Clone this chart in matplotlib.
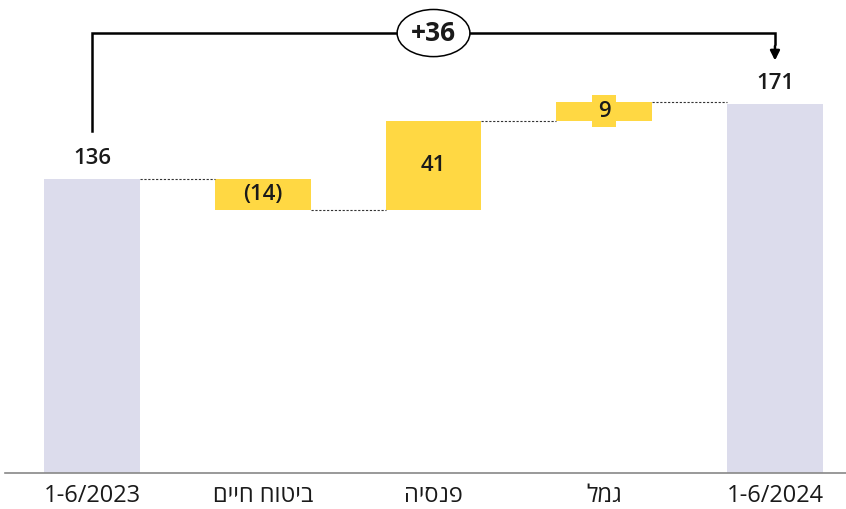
import matplotlib.pyplot as plt

# waterfall data
categories = ["1-6/2023", "ביטוח חיים", "פנסיה", "גמל", "1-6/2024"]
start_value = 136
changes = [-14, 41, 9]
end_value = 171
change_labels = ["(14)", "41", "9"]
total_change_label = "+36"

plt.rcParams['font.family'] = ['Open Sans', 'DejaVu Sans']

total_color = "#dcdcec"
step_color = "#ffd843"
text_color = "#1a1a1a"

fig = plt.figure(figsize=(8.46, 5.09), dpi=100)
ax = fig.add_axes([0.006, 0.0707, 0.994, 0.9293])

width = 0.56
n = len(categories)

# totals
ax.bar(0, start_value, width=width, color=total_color)
ax.bar(n - 1, end_value, width=width, color=total_color)

# steps
running = start_value
levels = [start_value]
for i, ch in enumerate(changes):
    bottom = running if ch > 0 else running + ch
    ax.bar(i + 1, abs(ch), bottom=bottom, width=width, color=step_color)
    mid = bottom + abs(ch) / 2
    if abs(ch) < 12:
        ax.text(i + 1, mid, change_labels[i], ha="center", va="center", fontsize=16,
                fontweight="semibold", color=text_color,
                bbox=dict(boxstyle="square,pad=0.25", fc=step_color, ec="none"))
    else:
        ax.text(i + 1, mid, change_labels[i], ha="center", va="center", fontsize=16,
                fontweight="semibold", color=text_color)
    running += ch
    levels.append(running)

# dashed connectors between bars
for i, lvl in enumerate(levels):
    ax.plot([i + width / 2, i + 1 - width / 2], [lvl, lvl], ls=(0, (2, 1.5)),
            color="#333333", lw=0.8)

# total labels
ax.text(0, start_value + 9.5, str(start_value), ha="center", va="center", fontsize=16,
        fontweight="semibold", color=text_color)
ax.text(n - 1, end_value + 9.5, str(end_value), ha="center", va="center", fontsize=16,
        fontweight="semibold", color=text_color)

# bracket with total change
top = 203.7
ax.plot([0, 0, n - 1, n - 1], [start_value + 22.5, top, top, top - 5], color="black",
        lw=1.8, solid_joinstyle="miter")
ax.annotate("", xy=(n - 1, 191), xytext=(n - 1, top - 6),
            arrowprops=dict(arrowstyle="-|>", color="black", lw=1.8,
                            mutation_scale=14, shrinkA=0, shrinkB=0))
ax.text(2, top, total_change_label, ha="center", va="center", fontsize=19,
        fontweight="bold", color=text_color,
        bbox=dict(boxstyle="ellipse,pad=0.12", fc="white", ec="black", lw=1.1))

ax.set_xlim(-0.5095, 4.416)
ax.set_ylim(0, 219)

# hebrew labels reversed for left-to-right rendering
tick_labels = [c if c[0].isdigit() else c[::-1] for c in categories]
ax.set_xticks(range(n))
ax.set_xticklabels(tick_labels, fontsize=17, color=text_color)
ax.tick_params(axis="x", length=0, pad=8)
ax.set_yticks([])
for s in ["top", "left", "right"]:
    ax.spines[s].set_visible(False)
ax.spines["bottom"].set_color("#888888")
ax.spines["bottom"].set_linewidth(1.2)

fig.savefig("out.png", dpi=100)
